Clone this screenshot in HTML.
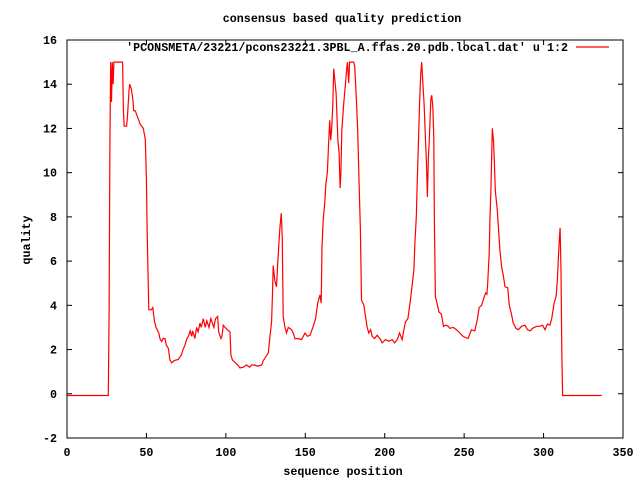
<!DOCTYPE html>
<html><head><meta charset="utf-8"><style>
body{margin:0;background:#fff;}
svg text{font-family:"Liberation Mono",monospace;font-weight:bold;font-size:11.7px;fill:#000;}
</style></head><body>
<svg id="chart" width="640" height="480" xmlns="http://www.w3.org/2000/svg">
<rect width="640" height="480" fill="#fff"/>
<text x="342" y="22" text-anchor="middle">consensus based quality prediction</text>
<text x="343" y="475" text-anchor="middle">sequence position</text>
<text x="0" y="0" text-anchor="middle" transform="translate(30,240) rotate(-90)">quality</text>
<g id="axes"></g>
<g id="series"></g>
<g>
<text x="568" y="51" text-anchor="end">'PCONSMETA/23221/pcons23221.3PBL_A.ffas.20.pdb.local.dat' u 1:2</text>
<line x1="576" y1="47" x2="609" y2="47" stroke="#f00" stroke-width="1.2"/>
</g>
</svg>
<script>
const xTicks=[0,50,100,150,200,250,300,350];
const yTicks=[-2,0,2,4,6,8,10,12,14,16];
const residues=[0,26,26.5,27,27.5,28,28.5,29,29.5,35,35.5,36,37.5,38,39,39.5,40.5,41.5,42,43,45,46,48,49.3,50,50.5,51,51.5,53,54,55,56,57.8,58.5,59.6,60.5,61.7,62.5,63.8,64.8,66,67.5,70,72,73,74.3,75.5,76.4,77.5,78.5,79,80.5,81.6,82.5,83.7,84.5,85.8,87,88,89.4,90.5,91.5,92.5,93.5,94.8,95.5,96.9,97.5,98.4,99.5,101,102.6,103.2,104.1,106,107.5,108.9,111,113,115,116.2,118,120,122.6,123.6,126.7,127.8,128.8,129.4,129.8,130.9,131.9,132.6,133.4,134,134.9,135.5,136.1,137.2,138.2,139.3,141.4,142.4,143.5,145.6,147.7,149.8,151.3,153,155,156.5,157.8,159.2,160,160.5,161.3,162.2,163,163.9,164.7,165.4,166,166.6,167.3,167.9,168.6,169.4,170.5,171.3,171.9,172.4,173,174.1,175.6,176.2,176.6,177.3,177.9,179,180.5,181.1,182.2,183,183.9,184.7,185.4,186.9,187.9,189,190,191.1,192.1,193.6,195.3,197.4,198.4,200.5,202.6,204.7,206.2,207.9,209.3,211,212.1,213.1,214.6,215.9,216.9,218.4,219,219.9,220.5,221.2,222,222.7,223.3,223.9,224.8,225.6,226.2,226.9,227.5,228.1,229,229.6,230.3,230.9,231.3,231.9,233.2,234.2,235.7,237,238.4,240,241,243.1,245.2,247.3,249.4,252.5,254.6,256.7,258.2,259.5,261,262,263.5,264.3,264.8,265.8,266.2,266.9,267.5,267.7,268.4,269,269.6,270.9,271.7,272.5,273.6,274.6,275.7,277.4,278.4,279.9,280.9,282.6,284.1,286.2,288.3,289.8,291.5,293.1,295.6,297.7,299.4,300.9,302.4,304,305.1,306.6,307.9,308.7,309.4,310,310.4,311,311.5,312,336.6];
const quality=[-0.08,-0.08,3.7,11.3,15,13.2,15,14,15,15,12.8,12.1,12.1,12.5,13.7,14.0,13.8,13.3,12.8,12.8,12.4,12.2,12.0,11.5,9.7,7.3,5.5,3.8,3.8,3.9,3.3,3.0,2.75,2.5,2.36,2.5,2.5,2.2,2.05,1.53,1.4,1.5,1.55,1.76,2.0,2.2,2.5,2.6,2.85,2.6,2.85,2.5,3.0,2.8,3.2,3.0,3.4,3.0,3.3,3.0,3.4,3.2,3.0,3.4,3.5,2.8,2.5,2.6,3.1,3.0,2.9,2.8,1.76,1.53,1.4,1.3,1.17,1.2,1.3,1.2,1.3,1.3,1.25,1.3,1.5,1.85,2.6,3.26,4.7,5.8,5.1,4.84,5.8,6.8,7.5,8.17,6.95,3.5,3.0,2.75,3.0,2.9,2.75,2.48,2.5,2.45,2.75,2.6,2.65,3.05,3.4,4.1,4.47,4.1,6.65,7.86,8.6,9.5,10.04,11.3,12.37,11.47,12.0,13.05,14.7,14.2,13.6,11.47,10.9,9.3,9.97,11.9,13.05,14.3,14.8,15,14.05,15,15,15,14.8,13.3,11.9,9.5,7.4,4.24,4.0,3.5,3.0,2.75,2.9,2.6,2.5,2.65,2.45,2.3,2.45,2.38,2.45,2.3,2.45,2.75,2.45,2.9,3.25,3.4,4.1,4.7,5.6,6.8,8.0,9.66,11.3,13.3,14.5,15,14.2,13.1,11.6,10.65,8.9,10.7,11.6,13.3,13.5,13.0,11.6,7.7,4.4,4.0,3.7,3.6,3.05,3.1,3.05,2.96,3.0,2.9,2.75,2.59,2.5,2.9,2.85,3.34,3.9,4.0,4.24,4.56,4.5,5.0,6.35,7.8,9.36,11.2,12.0,11.5,10.56,9.2,8.3,7.4,6.5,5.75,5.37,4.84,4.8,4.0,3.57,3.2,2.96,2.9,3.05,3.1,2.9,2.85,2.96,3.05,3.05,3.1,2.9,3.15,3.1,3.4,4.1,4.4,5.15,6.27,7.1,7.5,5.6,1.85,-0.08,-0.08];

const L=67,R=623,T=40,B=438;
function xs(v){return L+(v-0)/(350-0)*(R-L);}
function ys(v){return B-(v-(-2))/(16-(-2))*(B-T);}
const NS="http://www.w3.org/2000/svg";
const axes=document.getElementById('axes');
function mk(tag,attrs,parent){const e=document.createElementNS(NS,tag);for(const k in attrs)e.setAttribute(k,attrs[k]);parent.appendChild(e);return e;}
const border=mk('rect',{x:L,y:T,width:R-L,height:B-T,fill:'none',stroke:'#000','stroke-width':1},axes);


xTicks.forEach(t=>{
  const x=xs(t);
  const a=mk('line',{x1:x,y1:B,x2:x,y2:B-5,stroke:'#000'},axes);
  
  
  const b=mk('line',{x1:x,y1:T,x2:x,y2:T+5,stroke:'#000'},axes);
  
  
  const l=mk('text',{x:x,y:456,'text-anchor':'middle'},axes);
  l.textContent=t;
  
  
});
yTicks.forEach(t=>{
  const y=ys(t);
  const a=mk('line',{x1:L,y1:y,x2:L+5,y2:y,stroke:'#000'},axes);
  
  
  const b=mk('line',{x1:R,y1:y,x2:R-5,y2:y,stroke:'#000'},axes);
  
  
  const l=mk('text',{x:57,y:y+4,'text-anchor':'end'},axes);
  l.textContent=t;
  
  
});
let d='';
residues.forEach((r,i)=>{d+=(i?'L':'M')+xs(r).toFixed(1)+','+ys(quality[i]).toFixed(1);});
const p=mk('path',{d:d,fill:'none',stroke:'#f00','stroke-width':1.2},document.getElementById('series'));


</script>
</body></html>
